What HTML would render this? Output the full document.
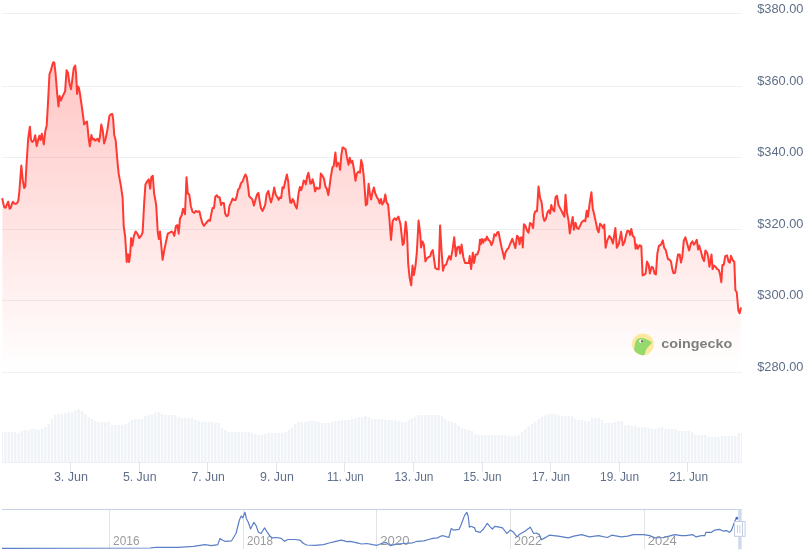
<!DOCTYPE html>
<html><head><meta charset="utf-8">
<style>
html,body{margin:0;padding:0;background:#fff;}
body{width:807px;height:552px;overflow:hidden;position:relative;}
svg{position:absolute;left:0;top:0;display:block;}
.yl text{font-family:"Liberation Sans",Arial,sans-serif;font-size:12.8px;fill:#5f6f89;}
.xl text{font-family:"Liberation Sans",Arial,sans-serif;font-size:12.3px;fill:#5f6f89;}
.nl text{font-family:"Liberation Sans",Arial,sans-serif;font-size:12px;fill:#9a9a9a;}
.cg{font-family:"Liberation Sans",Arial,sans-serif;font-size:13.6px;font-weight:bold;fill:#7e7e7e;}
</style></head><body>
<svg width="807" height="552" viewBox="0 0 807 552">
<defs>
<linearGradient id="fg" x1="0" y1="62" x2="0" y2="369" gradientUnits="userSpaceOnUse">
<stop offset="0" stop-color="#ff3a33" stop-opacity="0.29"/>
<stop offset="1" stop-color="#ff3a33" stop-opacity="0.0"/>
</linearGradient>
</defs>
<g stroke="#edf0f4" stroke-width="1" shape-rendering="crispEdges">
<line x1="2" x2="742" y1="13.5" y2="13.5"/>
<line x1="2" x2="742" y1="86.5" y2="86.5"/>
<line x1="2" x2="742" y1="157.5" y2="157.5"/>
<line x1="2" x2="742" y1="229.5" y2="229.5"/>
<line x1="2" x2="742" y1="300.5" y2="300.5"/>
<line x1="2" x2="742" y1="372.5" y2="372.5"/>
</g>
<path d="M2.4,199.0 L3.3,203.4 L4.3,207.2 L5.7,207.7 L6.7,205.0 L8.2,201.7 L9.6,208.8 L10.9,207.7 L12.0,203.4 L13.0,201.7 L14.1,203.4 L15.5,203.9 L16.8,203.4 L18.3,200.7 L19.3,192.0 L21.3,165.5 L22.8,180.4 L24.2,188.0 L25.3,186.5 L26.6,163.0 L28.2,138.5 L29.9,126.7 L31.0,140.0 L32.3,142.0 L33.9,140.4 L35.2,135.3 L36.7,146.0 L38.0,140.4 L39.4,135.7 L40.5,140.0 L41.8,133.8 L43.0,140.0 L43.8,144.4 L45.3,131.0 L46.7,125.4 L48.0,102.6 L49.5,74.0 L51.0,70.2 L52.4,64.5 L53.3,62.2 L54.3,62.6 L55.6,74.0 L57.1,93.0 L58.5,106.4 L59.6,96.0 L60.9,100.6 L62.4,96.8 L63.8,94.0 L65.1,91.1 L66.6,70.2 L68.0,73.0 L69.5,83.5 L71.0,89.2 L72.3,79.7 L73.7,68.3 L75.2,65.5 L76.1,74.0 L77.1,94.0 L78.0,86.4 L79.0,88.3 L80.0,94.0 L81.5,104.5 L82.8,114.0 L84.1,124.4 L85.7,122.5 L87.0,121.6 L88.5,136.8 L89.8,146.3 L91.4,134.9 L92.5,139.6 L93.8,138.7 L95.2,140.6 L96.5,139.6 L97.6,138.7 L99.0,141.6 L100.1,135.8 L101.3,124.4 L102.8,131.0 L104.1,143.5 L105.6,138.7 L107.5,129.2 L109.4,115.9 L110.8,114.3 L112.3,114.0 L113.2,119.7 L114.2,134.9 L115.7,140.6 L117.6,163.0 L118.7,173.9 L120.9,185.9 L122.6,197.8 L123.7,226.0 L125.2,237.0 L126.7,262.0 L128.0,254.3 L129.1,262.0 L130.2,254.3 L131.1,238.0 L132.4,245.7 L133.9,235.9 L135.7,231.5 L137.4,233.7 L139.3,238.0 L141.1,235.9 L142.6,232.6 L144.1,204.3 L145.4,184.8 L147.0,181.5 L148.7,179.3 L150.2,188.7 L151.3,177.2 L152.8,175.7 L154.1,193.5 L156.1,204.3 L157.8,232.6 L158.9,239.0 L160.0,231.5 L161.1,243.5 L162.6,259.8 L164.3,250.0 L166.1,241.3 L167.8,233.7 L169.8,232.6 L171.5,231.5 L173.0,232.6 L174.3,235.9 L175.9,226.0 L177.4,225.0 L178.7,233.7 L180.0,218.5 L181.7,215.2 L183.0,208.7 L185.0,214.1 L186.5,177.2 L187.8,193.5 L189.3,194.6 L190.9,206.5 L192.6,212.0 L194.3,213.0 L195.9,210.9 L197.8,211.9 L199.4,211.3 L200.7,217.0 L202.2,222.7 L203.9,225.8 L205.4,223.9 L207.0,222.0 L208.6,220.1 L210.0,220.8 L211.2,214.4 L212.5,208.1 L214.0,208.1 L215.3,196.7 L216.8,195.2 L218.1,197.3 L219.7,197.3 L221.0,204.9 L222.2,203.0 L223.9,203.0 L225.2,213.8 L226.7,216.3 L228.2,215.1 L229.5,205.6 L231.1,202.4 L232.6,198.6 L234.0,199.9 L235.6,199.9 L236.8,196.1 L238.1,189.7 L239.4,188.4 L240.9,183.4 L242.5,181.5 L244.2,177.0 L245.4,174.5 L246.7,177.0 L248.0,185.9 L249.2,196.1 L250.8,198.0 L252.3,199.2 L253.9,205.6 L255.6,199.2 L257.1,194.4 L258.4,192.9 L259.6,200.5 L260.9,208.1 L262.6,210.9 L264.1,207.5 L265.3,204.3 L266.6,194.2 L268.3,191.0 L269.8,198.0 L271.0,202.4 L272.6,196.7 L274.2,187.6 L275.7,194.8 L277.4,197.3 L278.7,199.9 L279.9,197.3 L281.2,198.0 L282.5,187.2 L283.7,188.4 L285.2,181.5 L286.9,174.5 L288.2,181.5 L289.4,195.4 L290.3,202.5 L291.6,202.8 L292.6,199.0 L293.9,201.1 L295.0,205.2 L296.8,208.5 L298.6,193.2 L299.9,186.9 L301.2,190.1 L302.3,186.9 L303.7,180.6 L305.0,181.2 L305.8,184.4 L307.1,176.8 L308.4,172.7 L309.4,178.0 L310.3,183.7 L311.5,183.1 L312.6,179.3 L313.8,183.7 L315.1,191.3 L316.6,187.5 L318.1,188.8 L319.8,188.2 L320.8,173.6 L322.3,175.5 L324.0,178.7 L325.5,186.9 L326.8,188.8 L328.3,195.1 L329.5,186.9 L330.8,176.8 L332.5,167.2 L333.7,166.0 L335.4,152.4 L336.6,166.6 L337.9,162.8 L339.2,164.7 L340.1,169.8 L341.3,155.2 L342.6,147.4 L343.9,148.2 L345.5,149.1 L347.0,157.7 L348.6,164.7 L349.8,157.7 L351.1,162.8 L352.4,160.9 L353.6,167.2 L354.6,174.2 L355.5,180.8 L356.8,173.6 L358.4,171.7 L360.0,172.7 L361.2,160.0 L362.5,165.3 L363.8,176.8 L365.0,193.2 L365.8,205.3 L367.1,204.0 L368.6,183.7 L369.8,193.2 L371.1,199.6 L372.4,192.6 L373.9,187.5 L375.2,193.2 L376.8,197.0 L378.3,199.6 L379.7,203.4 L381.0,198.9 L382.3,204.6 L383.8,202.1 L385.3,194.5 L386.6,202.7 L388.1,204.5 L389.3,217.4 L391.0,239.8 L392.7,220.8 L394.5,218.2 L396.2,220.0 L398.4,216.5 L400.5,224.3 L402.7,244.9 L403.9,243.2 L405.7,221.7 L407.0,232.9 L408.2,263.8 L409.6,277.6 L411.2,285.4 L412.5,265.6 L413.9,275.0 L415.5,265.6 L416.8,252.7 L418.6,220.5 L420.3,234.6 L421.1,247.5 L422.5,241.5 L423.9,244.9 L425.4,261.3 L427.2,257.8 L428.9,257.0 L430.3,256.1 L431.5,251.8 L432.8,250.1 L434.1,259.5 L435.3,268.2 L437.0,269.0 L438.7,269.4 L440.1,225.6 L441.5,250.1 L443.0,270.7 L444.4,265.6 L446.1,264.7 L447.8,259.5 L449.2,256.1 L450.7,259.5 L452.5,250.1 L454.2,237.2 L455.9,256.1 L457.3,247.5 L459.0,246.6 L460.2,253.5 L461.6,244.6 L463.3,257.0 L465.0,263.0 L467.3,263.0 L468.8,263.0 L469.7,256.1 L471.1,269.0 L472.8,252.7 L474.0,263.0 L475.7,254.4 L477.4,254.4 L479.1,249.2 L480.0,239.7 L480.8,244.3 L481.8,238.9 L483.1,242.8 L484.3,239.4 L485.7,240.4 L486.9,236.6 L488.5,239.7 L490.0,241.2 L491.5,245.1 L493.1,241.2 L494.3,234.3 L495.9,235.8 L497.2,232.7 L498.5,232.0 L500.0,239.7 L501.6,247.4 L503.1,253.5 L504.2,258.9 L505.4,252.8 L506.9,249.7 L508.5,248.1 L510.3,243.5 L512.3,238.9 L513.9,243.5 L515.4,248.1 L517.0,235.8 L518.5,237.4 L519.6,244.3 L520.8,237.4 L521.9,237.4 L522.8,247.4 L523.9,224.3 L525.4,225.8 L527.0,230.4 L528.5,232.7 L530.0,223.0 L531.6,224.0 L533.1,228.1 L534.2,214.3 L535.4,211.2 L537.0,211.2 L538.5,186.5 L540.1,198.1 L541.6,202.0 L543.1,216.6 L544.4,220.9 L545.9,218.9 L547.3,212.7 L548.8,210.4 L550.1,213.5 L551.3,205.0 L552.7,209.6 L554.2,211.2 L555.5,197.3 L557.0,195.8 L558.5,205.0 L560.1,208.1 L562.1,212.0 L563.9,215.8 L564.4,216.6 L565.5,194.7 L567.0,212.7 L568.5,220.4 L569.8,233.5 L571.3,224.3 L572.7,216.9 L573.9,229.7 L575.5,222.7 L577.0,228.1 L578.6,228.9 L580.2,225.4 L581.9,222.0 L584.0,220.3 L585.3,221.1 L586.7,210.8 L587.9,216.8 L589.6,203.9 L591.4,192.2 L592.7,208.2 L594.3,215.1 L596.0,222.9 L597.4,229.8 L598.6,232.3 L600.0,223.7 L601.7,225.4 L603.1,228.0 L604.3,224.6 L605.6,247.8 L607.4,240.1 L609.4,235.8 L611.1,238.4 L612.9,243.5 L615.4,228.0 L616.8,247.8 L618.9,243.5 L621.1,231.8 L622.8,245.2 L624.6,241.8 L626.1,234.9 L627.5,230.6 L629.2,231.5 L630.1,234.9 L631.3,228.9 L632.7,235.8 L634.4,237.5 L635.6,248.7 L636.6,244.4 L637.8,248.7 L639.5,245.2 L641.3,246.1 L642.6,275.4 L644.4,274.5 L645.6,273.6 L647.0,261.6 L648.7,265.0 L649.9,273.6 L651.6,266.8 L653.0,267.6 L654.5,273.6 L655.9,274.5 L657.3,253.8 L658.8,246.1 L661.1,244.4 L662.8,240.4 L664.2,247.8 L665.9,250.4 L667.9,259.0 L669.7,259.9 L671.0,261.6 L672.3,269.1 L673.5,273.2 L675.1,272.7 L676.4,264.2 L678.0,254.5 L679.7,254.5 L681.0,262.6 L682.3,256.9 L683.8,240.6 L685.4,237.3 L687.0,243.0 L689.1,250.4 L690.8,243.9 L692.4,241.4 L693.9,244.7 L695.2,243.0 L696.8,239.8 L698.1,249.6 L699.2,245.5 L700.9,251.2 L702.5,257.7 L704.1,261.0 L705.4,250.4 L707.1,252.8 L708.2,256.9 L709.4,266.7 L710.7,260.2 L711.5,254.5 L712.6,269.1 L713.9,265.5 L715.5,266.7 L717.2,269.1 L718.8,270.0 L720.0,274.0 L721.3,282.2 L722.4,265.0 L723.7,265.0 L725.3,256.1 L727.0,255.3 L728.6,261.8 L729.9,262.6 L731.0,255.8 L732.7,260.2 L734.3,261.8 L735.4,290.3 L736.7,292.0 L738.4,310.7 L739.7,313.2 L740.8,308.3 L740.8,369 L2.4,369 Z" fill="url(#fg)"/>
<path d="M2.4,199.0 L3.3,203.4 L4.3,207.2 L5.7,207.7 L6.7,205.0 L8.2,201.7 L9.6,208.8 L10.9,207.7 L12.0,203.4 L13.0,201.7 L14.1,203.4 L15.5,203.9 L16.8,203.4 L18.3,200.7 L19.3,192.0 L21.3,165.5 L22.8,180.4 L24.2,188.0 L25.3,186.5 L26.6,163.0 L28.2,138.5 L29.9,126.7 L31.0,140.0 L32.3,142.0 L33.9,140.4 L35.2,135.3 L36.7,146.0 L38.0,140.4 L39.4,135.7 L40.5,140.0 L41.8,133.8 L43.0,140.0 L43.8,144.4 L45.3,131.0 L46.7,125.4 L48.0,102.6 L49.5,74.0 L51.0,70.2 L52.4,64.5 L53.3,62.2 L54.3,62.6 L55.6,74.0 L57.1,93.0 L58.5,106.4 L59.6,96.0 L60.9,100.6 L62.4,96.8 L63.8,94.0 L65.1,91.1 L66.6,70.2 L68.0,73.0 L69.5,83.5 L71.0,89.2 L72.3,79.7 L73.7,68.3 L75.2,65.5 L76.1,74.0 L77.1,94.0 L78.0,86.4 L79.0,88.3 L80.0,94.0 L81.5,104.5 L82.8,114.0 L84.1,124.4 L85.7,122.5 L87.0,121.6 L88.5,136.8 L89.8,146.3 L91.4,134.9 L92.5,139.6 L93.8,138.7 L95.2,140.6 L96.5,139.6 L97.6,138.7 L99.0,141.6 L100.1,135.8 L101.3,124.4 L102.8,131.0 L104.1,143.5 L105.6,138.7 L107.5,129.2 L109.4,115.9 L110.8,114.3 L112.3,114.0 L113.2,119.7 L114.2,134.9 L115.7,140.6 L117.6,163.0 L118.7,173.9 L120.9,185.9 L122.6,197.8 L123.7,226.0 L125.2,237.0 L126.7,262.0 L128.0,254.3 L129.1,262.0 L130.2,254.3 L131.1,238.0 L132.4,245.7 L133.9,235.9 L135.7,231.5 L137.4,233.7 L139.3,238.0 L141.1,235.9 L142.6,232.6 L144.1,204.3 L145.4,184.8 L147.0,181.5 L148.7,179.3 L150.2,188.7 L151.3,177.2 L152.8,175.7 L154.1,193.5 L156.1,204.3 L157.8,232.6 L158.9,239.0 L160.0,231.5 L161.1,243.5 L162.6,259.8 L164.3,250.0 L166.1,241.3 L167.8,233.7 L169.8,232.6 L171.5,231.5 L173.0,232.6 L174.3,235.9 L175.9,226.0 L177.4,225.0 L178.7,233.7 L180.0,218.5 L181.7,215.2 L183.0,208.7 L185.0,214.1 L186.5,177.2 L187.8,193.5 L189.3,194.6 L190.9,206.5 L192.6,212.0 L194.3,213.0 L195.9,210.9 L197.8,211.9 L199.4,211.3 L200.7,217.0 L202.2,222.7 L203.9,225.8 L205.4,223.9 L207.0,222.0 L208.6,220.1 L210.0,220.8 L211.2,214.4 L212.5,208.1 L214.0,208.1 L215.3,196.7 L216.8,195.2 L218.1,197.3 L219.7,197.3 L221.0,204.9 L222.2,203.0 L223.9,203.0 L225.2,213.8 L226.7,216.3 L228.2,215.1 L229.5,205.6 L231.1,202.4 L232.6,198.6 L234.0,199.9 L235.6,199.9 L236.8,196.1 L238.1,189.7 L239.4,188.4 L240.9,183.4 L242.5,181.5 L244.2,177.0 L245.4,174.5 L246.7,177.0 L248.0,185.9 L249.2,196.1 L250.8,198.0 L252.3,199.2 L253.9,205.6 L255.6,199.2 L257.1,194.4 L258.4,192.9 L259.6,200.5 L260.9,208.1 L262.6,210.9 L264.1,207.5 L265.3,204.3 L266.6,194.2 L268.3,191.0 L269.8,198.0 L271.0,202.4 L272.6,196.7 L274.2,187.6 L275.7,194.8 L277.4,197.3 L278.7,199.9 L279.9,197.3 L281.2,198.0 L282.5,187.2 L283.7,188.4 L285.2,181.5 L286.9,174.5 L288.2,181.5 L289.4,195.4 L290.3,202.5 L291.6,202.8 L292.6,199.0 L293.9,201.1 L295.0,205.2 L296.8,208.5 L298.6,193.2 L299.9,186.9 L301.2,190.1 L302.3,186.9 L303.7,180.6 L305.0,181.2 L305.8,184.4 L307.1,176.8 L308.4,172.7 L309.4,178.0 L310.3,183.7 L311.5,183.1 L312.6,179.3 L313.8,183.7 L315.1,191.3 L316.6,187.5 L318.1,188.8 L319.8,188.2 L320.8,173.6 L322.3,175.5 L324.0,178.7 L325.5,186.9 L326.8,188.8 L328.3,195.1 L329.5,186.9 L330.8,176.8 L332.5,167.2 L333.7,166.0 L335.4,152.4 L336.6,166.6 L337.9,162.8 L339.2,164.7 L340.1,169.8 L341.3,155.2 L342.6,147.4 L343.9,148.2 L345.5,149.1 L347.0,157.7 L348.6,164.7 L349.8,157.7 L351.1,162.8 L352.4,160.9 L353.6,167.2 L354.6,174.2 L355.5,180.8 L356.8,173.6 L358.4,171.7 L360.0,172.7 L361.2,160.0 L362.5,165.3 L363.8,176.8 L365.0,193.2 L365.8,205.3 L367.1,204.0 L368.6,183.7 L369.8,193.2 L371.1,199.6 L372.4,192.6 L373.9,187.5 L375.2,193.2 L376.8,197.0 L378.3,199.6 L379.7,203.4 L381.0,198.9 L382.3,204.6 L383.8,202.1 L385.3,194.5 L386.6,202.7 L388.1,204.5 L389.3,217.4 L391.0,239.8 L392.7,220.8 L394.5,218.2 L396.2,220.0 L398.4,216.5 L400.5,224.3 L402.7,244.9 L403.9,243.2 L405.7,221.7 L407.0,232.9 L408.2,263.8 L409.6,277.6 L411.2,285.4 L412.5,265.6 L413.9,275.0 L415.5,265.6 L416.8,252.7 L418.6,220.5 L420.3,234.6 L421.1,247.5 L422.5,241.5 L423.9,244.9 L425.4,261.3 L427.2,257.8 L428.9,257.0 L430.3,256.1 L431.5,251.8 L432.8,250.1 L434.1,259.5 L435.3,268.2 L437.0,269.0 L438.7,269.4 L440.1,225.6 L441.5,250.1 L443.0,270.7 L444.4,265.6 L446.1,264.7 L447.8,259.5 L449.2,256.1 L450.7,259.5 L452.5,250.1 L454.2,237.2 L455.9,256.1 L457.3,247.5 L459.0,246.6 L460.2,253.5 L461.6,244.6 L463.3,257.0 L465.0,263.0 L467.3,263.0 L468.8,263.0 L469.7,256.1 L471.1,269.0 L472.8,252.7 L474.0,263.0 L475.7,254.4 L477.4,254.4 L479.1,249.2 L480.0,239.7 L480.8,244.3 L481.8,238.9 L483.1,242.8 L484.3,239.4 L485.7,240.4 L486.9,236.6 L488.5,239.7 L490.0,241.2 L491.5,245.1 L493.1,241.2 L494.3,234.3 L495.9,235.8 L497.2,232.7 L498.5,232.0 L500.0,239.7 L501.6,247.4 L503.1,253.5 L504.2,258.9 L505.4,252.8 L506.9,249.7 L508.5,248.1 L510.3,243.5 L512.3,238.9 L513.9,243.5 L515.4,248.1 L517.0,235.8 L518.5,237.4 L519.6,244.3 L520.8,237.4 L521.9,237.4 L522.8,247.4 L523.9,224.3 L525.4,225.8 L527.0,230.4 L528.5,232.7 L530.0,223.0 L531.6,224.0 L533.1,228.1 L534.2,214.3 L535.4,211.2 L537.0,211.2 L538.5,186.5 L540.1,198.1 L541.6,202.0 L543.1,216.6 L544.4,220.9 L545.9,218.9 L547.3,212.7 L548.8,210.4 L550.1,213.5 L551.3,205.0 L552.7,209.6 L554.2,211.2 L555.5,197.3 L557.0,195.8 L558.5,205.0 L560.1,208.1 L562.1,212.0 L563.9,215.8 L564.4,216.6 L565.5,194.7 L567.0,212.7 L568.5,220.4 L569.8,233.5 L571.3,224.3 L572.7,216.9 L573.9,229.7 L575.5,222.7 L577.0,228.1 L578.6,228.9 L580.2,225.4 L581.9,222.0 L584.0,220.3 L585.3,221.1 L586.7,210.8 L587.9,216.8 L589.6,203.9 L591.4,192.2 L592.7,208.2 L594.3,215.1 L596.0,222.9 L597.4,229.8 L598.6,232.3 L600.0,223.7 L601.7,225.4 L603.1,228.0 L604.3,224.6 L605.6,247.8 L607.4,240.1 L609.4,235.8 L611.1,238.4 L612.9,243.5 L615.4,228.0 L616.8,247.8 L618.9,243.5 L621.1,231.8 L622.8,245.2 L624.6,241.8 L626.1,234.9 L627.5,230.6 L629.2,231.5 L630.1,234.9 L631.3,228.9 L632.7,235.8 L634.4,237.5 L635.6,248.7 L636.6,244.4 L637.8,248.7 L639.5,245.2 L641.3,246.1 L642.6,275.4 L644.4,274.5 L645.6,273.6 L647.0,261.6 L648.7,265.0 L649.9,273.6 L651.6,266.8 L653.0,267.6 L654.5,273.6 L655.9,274.5 L657.3,253.8 L658.8,246.1 L661.1,244.4 L662.8,240.4 L664.2,247.8 L665.9,250.4 L667.9,259.0 L669.7,259.9 L671.0,261.6 L672.3,269.1 L673.5,273.2 L675.1,272.7 L676.4,264.2 L678.0,254.5 L679.7,254.5 L681.0,262.6 L682.3,256.9 L683.8,240.6 L685.4,237.3 L687.0,243.0 L689.1,250.4 L690.8,243.9 L692.4,241.4 L693.9,244.7 L695.2,243.0 L696.8,239.8 L698.1,249.6 L699.2,245.5 L700.9,251.2 L702.5,257.7 L704.1,261.0 L705.4,250.4 L707.1,252.8 L708.2,256.9 L709.4,266.7 L710.7,260.2 L711.5,254.5 L712.6,269.1 L713.9,265.5 L715.5,266.7 L717.2,269.1 L718.8,270.0 L720.0,274.0 L721.3,282.2 L722.4,265.0 L723.7,265.0 L725.3,256.1 L727.0,255.3 L728.6,261.8 L729.9,262.6 L731.0,255.8 L732.7,260.2 L734.3,261.8 L735.4,290.3 L736.7,292.0 L738.4,310.7 L739.7,313.2 L740.8,308.3" fill="none" stroke="#ff3a33" stroke-width="2" stroke-linejoin="round" stroke-linecap="round"/>
<g fill="#eff2f6">
<rect x="2.00" y="431" width="1.15" height="31"/>
<rect x="4.18" y="432" width="2.30" height="30"/>
<rect x="7.52" y="432" width="2.30" height="30"/>
<rect x="10.85" y="432" width="2.30" height="30"/>
<rect x="14.18" y="432" width="2.30" height="30"/>
<rect x="17.52" y="433" width="2.30" height="29"/>
<rect x="20.85" y="431" width="2.30" height="31"/>
<rect x="24.18" y="430" width="2.30" height="32"/>
<rect x="27.52" y="430" width="2.30" height="32"/>
<rect x="30.85" y="429" width="2.30" height="33"/>
<rect x="34.18" y="429" width="2.30" height="33"/>
<rect x="37.52" y="430" width="2.30" height="32"/>
<rect x="40.85" y="429" width="2.30" height="33"/>
<rect x="44.18" y="427" width="2.30" height="35"/>
<rect x="47.52" y="424" width="2.30" height="38"/>
<rect x="50.85" y="419" width="2.30" height="43"/>
<rect x="54.18" y="415" width="2.30" height="47"/>
<rect x="57.52" y="414" width="2.30" height="48"/>
<rect x="60.85" y="414" width="2.30" height="48"/>
<rect x="64.18" y="413" width="2.30" height="49"/>
<rect x="67.52" y="412" width="2.30" height="50"/>
<rect x="70.85" y="412" width="2.30" height="50"/>
<rect x="74.18" y="410" width="2.30" height="52"/>
<rect x="77.52" y="409" width="2.30" height="53"/>
<rect x="80.85" y="411" width="2.30" height="51"/>
<rect x="84.18" y="414" width="2.30" height="48"/>
<rect x="87.52" y="417" width="2.30" height="45"/>
<rect x="90.85" y="419" width="2.30" height="43"/>
<rect x="94.18" y="421" width="2.30" height="41"/>
<rect x="97.52" y="422" width="2.30" height="40"/>
<rect x="100.85" y="422" width="2.30" height="40"/>
<rect x="104.18" y="422" width="2.30" height="40"/>
<rect x="107.52" y="422" width="2.30" height="40"/>
<rect x="110.85" y="425" width="2.30" height="37"/>
<rect x="114.18" y="425" width="2.30" height="37"/>
<rect x="117.52" y="425" width="2.30" height="37"/>
<rect x="120.85" y="425" width="2.30" height="37"/>
<rect x="124.18" y="424" width="2.30" height="38"/>
<rect x="127.52" y="422" width="2.30" height="40"/>
<rect x="130.85" y="420" width="2.30" height="42"/>
<rect x="134.18" y="419" width="2.30" height="43"/>
<rect x="137.52" y="419" width="2.30" height="43"/>
<rect x="140.85" y="419" width="2.30" height="43"/>
<rect x="144.18" y="416" width="2.30" height="46"/>
<rect x="147.52" y="415" width="2.30" height="47"/>
<rect x="150.85" y="414" width="2.30" height="48"/>
<rect x="154.18" y="412" width="2.30" height="50"/>
<rect x="157.52" y="412" width="2.30" height="50"/>
<rect x="160.85" y="414" width="2.30" height="48"/>
<rect x="164.18" y="415" width="2.30" height="47"/>
<rect x="167.52" y="415" width="2.30" height="47"/>
<rect x="170.85" y="415" width="2.30" height="47"/>
<rect x="174.18" y="415" width="2.30" height="47"/>
<rect x="177.52" y="417" width="2.30" height="45"/>
<rect x="180.85" y="418" width="2.30" height="44"/>
<rect x="184.18" y="418" width="2.30" height="44"/>
<rect x="187.52" y="418" width="2.30" height="44"/>
<rect x="190.85" y="418" width="2.30" height="44"/>
<rect x="194.18" y="420" width="2.30" height="42"/>
<rect x="197.52" y="421" width="2.30" height="41"/>
<rect x="200.85" y="422" width="2.30" height="40"/>
<rect x="204.18" y="422" width="2.30" height="40"/>
<rect x="207.52" y="422" width="2.30" height="40"/>
<rect x="210.85" y="422" width="2.30" height="40"/>
<rect x="214.18" y="423" width="2.30" height="39"/>
<rect x="217.52" y="423" width="2.30" height="39"/>
<rect x="220.85" y="428" width="2.30" height="34"/>
<rect x="224.18" y="430" width="2.30" height="32"/>
<rect x="227.52" y="432" width="2.30" height="30"/>
<rect x="230.85" y="432" width="2.30" height="30"/>
<rect x="234.18" y="432" width="2.30" height="30"/>
<rect x="237.52" y="432" width="2.30" height="30"/>
<rect x="240.85" y="432" width="2.30" height="30"/>
<rect x="244.18" y="432" width="2.30" height="30"/>
<rect x="247.52" y="432" width="2.30" height="30"/>
<rect x="250.85" y="433" width="2.30" height="29"/>
<rect x="254.18" y="434" width="2.30" height="28"/>
<rect x="257.52" y="435" width="2.30" height="27"/>
<rect x="260.85" y="435" width="2.30" height="27"/>
<rect x="264.18" y="434" width="2.30" height="28"/>
<rect x="267.52" y="433" width="2.30" height="29"/>
<rect x="270.85" y="433" width="2.30" height="29"/>
<rect x="274.18" y="433" width="2.30" height="29"/>
<rect x="277.52" y="433" width="2.30" height="29"/>
<rect x="280.85" y="433" width="2.30" height="29"/>
<rect x="284.18" y="432" width="2.30" height="30"/>
<rect x="287.52" y="430" width="2.30" height="32"/>
<rect x="290.85" y="428" width="2.30" height="34"/>
<rect x="294.18" y="424" width="2.30" height="38"/>
<rect x="297.52" y="422" width="2.30" height="40"/>
<rect x="300.85" y="422" width="2.30" height="40"/>
<rect x="304.18" y="422" width="2.30" height="40"/>
<rect x="307.52" y="421" width="2.30" height="41"/>
<rect x="310.85" y="421" width="2.30" height="41"/>
<rect x="314.18" y="421" width="2.30" height="41"/>
<rect x="317.52" y="422" width="2.30" height="40"/>
<rect x="320.85" y="423" width="2.30" height="39"/>
<rect x="324.18" y="423" width="2.30" height="39"/>
<rect x="327.52" y="423" width="2.30" height="39"/>
<rect x="330.85" y="422" width="2.30" height="40"/>
<rect x="334.18" y="421" width="2.30" height="41"/>
<rect x="337.52" y="421" width="2.30" height="41"/>
<rect x="340.85" y="420" width="2.30" height="42"/>
<rect x="344.18" y="420" width="2.30" height="42"/>
<rect x="347.52" y="420" width="2.30" height="42"/>
<rect x="350.85" y="419" width="2.30" height="43"/>
<rect x="354.18" y="418" width="2.30" height="44"/>
<rect x="357.52" y="417" width="2.30" height="45"/>
<rect x="360.85" y="417" width="2.30" height="45"/>
<rect x="364.18" y="416" width="2.30" height="46"/>
<rect x="367.52" y="417" width="2.30" height="45"/>
<rect x="370.85" y="419" width="2.30" height="43"/>
<rect x="374.18" y="419" width="2.30" height="43"/>
<rect x="377.52" y="419" width="2.30" height="43"/>
<rect x="380.85" y="419" width="2.30" height="43"/>
<rect x="384.18" y="420" width="2.30" height="42"/>
<rect x="387.52" y="420" width="2.30" height="42"/>
<rect x="390.85" y="420" width="2.30" height="42"/>
<rect x="394.18" y="420" width="2.30" height="42"/>
<rect x="397.52" y="421" width="2.30" height="41"/>
<rect x="400.85" y="422" width="2.30" height="40"/>
<rect x="404.18" y="422" width="2.30" height="40"/>
<rect x="407.52" y="420" width="2.30" height="42"/>
<rect x="410.85" y="418" width="2.30" height="44"/>
<rect x="414.18" y="417" width="2.30" height="45"/>
<rect x="417.52" y="415" width="2.30" height="47"/>
<rect x="420.85" y="415" width="2.30" height="47"/>
<rect x="424.18" y="415" width="2.30" height="47"/>
<rect x="427.52" y="415" width="2.30" height="47"/>
<rect x="430.85" y="415" width="2.30" height="47"/>
<rect x="434.18" y="415" width="2.30" height="47"/>
<rect x="437.52" y="415" width="2.30" height="47"/>
<rect x="440.85" y="416" width="2.30" height="46"/>
<rect x="444.18" y="419" width="2.30" height="43"/>
<rect x="447.52" y="421" width="2.30" height="41"/>
<rect x="450.85" y="422" width="2.30" height="40"/>
<rect x="454.18" y="423" width="2.30" height="39"/>
<rect x="457.52" y="426" width="2.30" height="36"/>
<rect x="460.85" y="428" width="2.30" height="34"/>
<rect x="464.18" y="429" width="2.30" height="33"/>
<rect x="467.52" y="430" width="2.30" height="32"/>
<rect x="470.85" y="431" width="2.30" height="31"/>
<rect x="474.18" y="434" width="2.30" height="28"/>
<rect x="477.52" y="435" width="2.30" height="27"/>
<rect x="480.85" y="435" width="2.30" height="27"/>
<rect x="484.18" y="435" width="2.30" height="27"/>
<rect x="487.52" y="435" width="2.30" height="27"/>
<rect x="490.85" y="435" width="2.30" height="27"/>
<rect x="494.18" y="435" width="2.30" height="27"/>
<rect x="497.52" y="435" width="2.30" height="27"/>
<rect x="500.85" y="435" width="2.30" height="27"/>
<rect x="504.18" y="435" width="2.30" height="27"/>
<rect x="507.52" y="436" width="2.30" height="26"/>
<rect x="510.85" y="436" width="2.30" height="26"/>
<rect x="514.18" y="436" width="2.30" height="26"/>
<rect x="517.52" y="435" width="2.30" height="27"/>
<rect x="520.85" y="432" width="2.30" height="30"/>
<rect x="524.18" y="429" width="2.30" height="33"/>
<rect x="527.52" y="426" width="2.30" height="36"/>
<rect x="530.85" y="424" width="2.30" height="38"/>
<rect x="534.18" y="422" width="2.30" height="40"/>
<rect x="537.52" y="419" width="2.30" height="43"/>
<rect x="540.85" y="417" width="2.30" height="45"/>
<rect x="544.18" y="415" width="2.30" height="47"/>
<rect x="547.52" y="414" width="2.30" height="48"/>
<rect x="550.85" y="414" width="2.30" height="48"/>
<rect x="554.18" y="414" width="2.30" height="48"/>
<rect x="557.52" y="415" width="2.30" height="47"/>
<rect x="560.85" y="416" width="2.30" height="46"/>
<rect x="564.18" y="416" width="2.30" height="46"/>
<rect x="567.52" y="416" width="2.30" height="46"/>
<rect x="570.85" y="416" width="2.30" height="46"/>
<rect x="574.18" y="419" width="2.30" height="43"/>
<rect x="577.52" y="420" width="2.30" height="42"/>
<rect x="580.85" y="420" width="2.30" height="42"/>
<rect x="584.18" y="421" width="2.30" height="41"/>
<rect x="587.52" y="421" width="2.30" height="41"/>
<rect x="590.85" y="418" width="2.30" height="44"/>
<rect x="594.18" y="418" width="2.30" height="44"/>
<rect x="597.52" y="418" width="2.30" height="44"/>
<rect x="600.85" y="420" width="2.30" height="42"/>
<rect x="604.18" y="423" width="2.30" height="39"/>
<rect x="607.52" y="423" width="2.30" height="39"/>
<rect x="610.85" y="423" width="2.30" height="39"/>
<rect x="614.18" y="422" width="2.30" height="40"/>
<rect x="617.52" y="421" width="2.30" height="41"/>
<rect x="620.85" y="421" width="2.30" height="41"/>
<rect x="624.18" y="425" width="2.30" height="37"/>
<rect x="627.52" y="425" width="2.30" height="37"/>
<rect x="630.85" y="426" width="2.30" height="36"/>
<rect x="634.18" y="426" width="2.30" height="36"/>
<rect x="637.52" y="427" width="2.30" height="35"/>
<rect x="640.85" y="427" width="2.30" height="35"/>
<rect x="644.18" y="427" width="2.30" height="35"/>
<rect x="647.52" y="428" width="2.30" height="34"/>
<rect x="650.85" y="429" width="2.30" height="33"/>
<rect x="654.18" y="429" width="2.30" height="33"/>
<rect x="657.52" y="428" width="2.30" height="34"/>
<rect x="660.85" y="427" width="2.30" height="35"/>
<rect x="664.18" y="429" width="2.30" height="33"/>
<rect x="667.52" y="429" width="2.30" height="33"/>
<rect x="670.85" y="429" width="2.30" height="33"/>
<rect x="674.18" y="429" width="2.30" height="33"/>
<rect x="677.52" y="431" width="2.30" height="31"/>
<rect x="680.85" y="431" width="2.30" height="31"/>
<rect x="684.18" y="431" width="2.30" height="31"/>
<rect x="687.52" y="431" width="2.30" height="31"/>
<rect x="690.85" y="432" width="2.30" height="30"/>
<rect x="694.18" y="435" width="2.30" height="27"/>
<rect x="697.52" y="435" width="2.30" height="27"/>
<rect x="700.85" y="435" width="2.30" height="27"/>
<rect x="704.18" y="435" width="2.30" height="27"/>
<rect x="707.52" y="437" width="2.30" height="25"/>
<rect x="710.85" y="437" width="2.30" height="25"/>
<rect x="714.18" y="437" width="2.30" height="25"/>
<rect x="717.52" y="437" width="2.30" height="25"/>
<rect x="720.85" y="436" width="2.30" height="26"/>
<rect x="724.18" y="436" width="2.30" height="26"/>
<rect x="727.52" y="436" width="2.30" height="26"/>
<rect x="730.85" y="436" width="2.30" height="26"/>
<rect x="734.18" y="436" width="2.30" height="26"/>
<rect x="737.52" y="433" width="2.30" height="29"/>
<rect x="740.85" y="433" width="1.15" height="29"/>
</g>
<line x1="2" x2="742" y1="462.5" y2="462.5" stroke="#eceff3"/>
<g stroke="#e0e5ec" shape-rendering="crispEdges">
<line x1="70.5" x2="70.5" y1="462" y2="472"/>
<line x1="139.5" x2="139.5" y1="462" y2="472"/>
<line x1="207.5" x2="207.5" y1="462" y2="472"/>
<line x1="276.5" x2="276.5" y1="462" y2="472"/>
<line x1="344.5" x2="344.5" y1="462" y2="472"/>
<line x1="413.5" x2="413.5" y1="462" y2="472"/>
<line x1="482.5" x2="482.5" y1="462" y2="472"/>
<line x1="550.5" x2="550.5" y1="462" y2="472"/>
<line x1="619.5" x2="619.5" y1="462" y2="472"/>
<line x1="687.5" x2="687.5" y1="462" y2="472"/>
</g>
<g class="yl">
<text x="757.2" y="12.8">$380.00</text>
<text x="757.2" y="84.9">$360.00</text>
<text x="757.2" y="155.8">$340.00</text>
<text x="757.2" y="227.8">$320.00</text>
<text x="757.2" y="298.8">$300.00</text>
<text x="757.2" y="370.8">$280.00</text>
</g>
<g class="xl">
<text x="53.90" y="481" textLength="34.20" lengthAdjust="spacingAndGlyphs">3. Jun</text>
<text x="122.90" y="481" textLength="33.60" lengthAdjust="spacingAndGlyphs">5. Jun</text>
<text x="191.50" y="481" textLength="33.30" lengthAdjust="spacingAndGlyphs">7. Jun</text>
<text x="260.00" y="481" textLength="33.80" lengthAdjust="spacingAndGlyphs">9. Jun</text>
<text x="327.00" y="481" textLength="36.60" lengthAdjust="spacingAndGlyphs">11. Jun</text>
<text x="394.40" y="481" textLength="39.10" lengthAdjust="spacingAndGlyphs">13. Jun</text>
<text x="463.20" y="481" textLength="38.40" lengthAdjust="spacingAndGlyphs">15. Jun</text>
<text x="531.90" y="481" textLength="38.10" lengthAdjust="spacingAndGlyphs">17. Jun</text>
<text x="600.00" y="481" textLength="39.10" lengthAdjust="spacingAndGlyphs">19. Jun</text>
<text x="669.20" y="481" textLength="38.80" lengthAdjust="spacingAndGlyphs">21. Jun</text>
</g>
<!-- coingecko logo -->
<g>
<circle cx="642.9" cy="344.3" r="10.9" fill="#fde8a0"/>
<path d="M634.1,350.1 C634.3,348 634.6,345.5 635.2,343.3 C635.5,341.8 636,340.4 637,339.2 C638.2,338.3 640,337.9 641.8,337.9 C643.5,337.9 645.2,338.4 646.8,339.4 C648.2,340.2 649.8,340.9 650.9,341.4 C651.6,341.8 651.9,342.6 651.4,343.6 C650.8,344.6 649.5,345.4 648.1,346.9 C647,348 646.2,349.3 645.6,351 C645.1,352.5 644.9,354 644.6,355.1 C643.4,355.3 642.3,355.2 641.3,355 C639.9,354.7 638.9,354.2 637.8,353.6 C636.4,352.7 635,351.5 634.1,350.1 Z" fill="#95d86c"/>
<circle cx="641" cy="341.3" r="1.8" fill="#fff"/>
<circle cx="641.9" cy="341.3" r="1.1" fill="#58585a"/>
<text class="cg" x="661.2" y="348" textLength="71" lengthAdjust="spacingAndGlyphs">coingecko</text>
</g>
<!-- navigator -->
<line x1="2" x2="742" y1="509.5" y2="509.5" stroke="#c6d2e6"/>
<g stroke="#e3e3e3">
<line x1="109.5" x2="109.5" y1="510" y2="549"/>
<line x1="243.5" x2="243.5" y1="510" y2="549"/>
<line x1="376.5" x2="376.5" y1="510" y2="549"/>
<line x1="510.5" x2="510.5" y1="510" y2="549"/>
<line x1="644.5" x2="644.5" y1="510" y2="549"/>
</g>
<g class="nl">
<text x="113.10" y="544.6" textLength="26.40" lengthAdjust="spacingAndGlyphs">2016</text>
<text x="247.00" y="544.6" textLength="26.00" lengthAdjust="spacingAndGlyphs">2018</text>
<text x="380.30" y="544.6" textLength="29.20" lengthAdjust="spacingAndGlyphs">2020</text>
<text x="514.00" y="544.6" textLength="28.00" lengthAdjust="spacingAndGlyphs">2022</text>
<text x="647.70" y="544.6" textLength="29.00" lengthAdjust="spacingAndGlyphs">2024</text>
</g>
<path d="M2.0,548.3 L150.0,548.0 L155.8,547.3 L178.0,547.3 L193.7,546.4 L204.8,544.6 L211.5,545.7 L217.8,544.6 L220.0,538.4 L222.7,540.2 L225.0,541.3 L231.6,540.8 L236.0,533.5 L239.4,520.0 L241.2,516.0 L242.8,517.8 L245.0,512.3 L246.5,519.0 L248.3,522.3 L250.6,529.0 L253.9,522.3 L256.1,525.6 L258.4,532.3 L261.0,533.5 L264.6,527.9 L267.3,532.3 L270.6,536.8 L272.2,537.9 L276.7,537.5 L281.2,538.4 L284.5,541.3 L287.8,539.5 L294.5,539.5 L300.1,540.2 L303.5,543.5 L306.8,545.0 L314.6,545.3 L323.5,544.6 L329.1,543.0 L334.7,541.7 L341.4,540.2 L347.0,541.7 L350.3,541.3 L357.0,542.8 L361.5,544.0 L367.0,543.5 L372.6,544.6 L377.1,545.3 L381.5,543.5 L386.0,542.4 L390.5,545.7 L396.0,544.2 L403.8,543.5 L412.8,542.8 L417.2,541.3 L423.9,540.8 L428.4,539.5 L432.8,538.4 L437.3,537.9 L441.8,535.7 L444.5,536.1 L448.9,537.5 L451.2,528.6 L453.4,530.1 L459.0,529.4 L461.2,524.5 L464.5,515.6 L466.8,512.3 L468.3,516.7 L469.4,527.2 L471.2,526.3 L474.6,527.9 L475.7,531.2 L480.2,532.3 L483.5,529.0 L487.3,523.4 L490.2,526.8 L492.4,529.0 L494.7,526.3 L498.0,526.8 L502.5,527.9 L506.9,533.5 L510.3,530.1 L513.6,532.3 L517.0,536.8 L519.2,534.6 L524.8,531.2 L530.3,527.2 L533.7,533.5 L536.4,533.0 L539.3,534.6 L541.5,539.7 L544.8,537.9 L549.3,535.2 L558.2,536.1 L568.3,537.9 L573.8,536.1 L581.6,534.6 L589.5,536.8 L598.4,535.7 L607.3,537.5 L611.8,535.2 L621.2,536.8 L627.8,536.1 L633.4,534.6 L643.5,534.6 L650.2,535.7 L654.6,537.9 L663.5,537.5 L669.1,536.1 L674.7,534.6 L681.4,535.7 L685.8,535.7 L692.5,534.6 L695.9,536.8 L701.5,535.7 L704.8,535.7 L705.9,532.3 L711.5,532.3 L714.8,530.1 L719.3,529.4 L723.8,531.2 L726.5,530.6 L729.3,532.3 L731.4,530.5 L733.5,524.6 L735.2,520.3 L736.9,517.8" fill="none" stroke="#5a7fc7" stroke-width="1.2" stroke-linejoin="round"/>
<circle cx="736.9" cy="518.2" r="1.4" fill="#4a6fbf"/>
<rect x="738.2" y="509.3" width="3.4" height="40" fill="#d0d9ec"/>
<rect x="734.5" y="521.5" width="10.6" height="14.8" fill="#fff" stroke="#c3cde2"/>
<line x1="737.5" x2="737.5" y1="525" y2="533" stroke="#c3cde2"/>
<line x1="739.9" x2="739.9" y1="525" y2="533" stroke="#c3cde2"/>
<line x1="742.5" x2="742.5" y1="521.5" y2="536.3" stroke="#c3cde2"/>
</svg>
</body></html>
